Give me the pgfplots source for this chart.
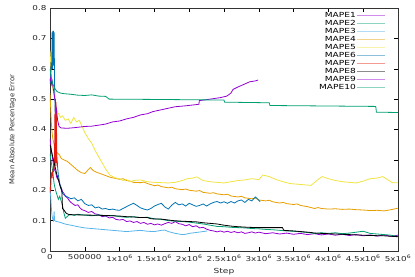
\documentclass[border=0pt]{standalone}
\usepackage{pgfplots}
\pgfplotsset{compat=1.18}
\usepackage{fontspec}
\setmainfont{DejaVu Sans}[FakeStretch=1.3]
\newfontfamily\ylfont{DejaVu Sans}
\definecolor{g1}{HTML}{9400D3}
\definecolor{g2}{HTML}{009E73}
\definecolor{g3}{HTML}{56B4E9}
\definecolor{g4}{HTML}{E69F00}
\definecolor{g5}{HTML}{F0E442}
\definecolor{g6}{HTML}{0072B2}
\definecolor{g7}{HTML}{E51E10}
\definecolor{g8}{HTML}{000000}
\begin{document}
\begin{tikzpicture}
\begin{axis}[
  name=ax, scale only axis, width=348bp, height=243bp,
  xmin=0, xmax=5e6, ymin=0, ymax=0.8,
  xtick={0,0.5e6,1e6,1.5e6,2e6,2.5e6,3e6,3.5e6,4e6,4.5e6,5e6},
  xticklabels={0,500000,1x10\textsuperscript{6},1.5x10\textsuperscript{6},2x10\textsuperscript{6},2.5x10\textsuperscript{6},3x10\textsuperscript{6},3.5x10\textsuperscript{6},4x10\textsuperscript{6},4.5x10\textsuperscript{6},5x10\textsuperscript{6}},
  ytick={0,0.1,0.2,0.3,0.4,0.5,0.6,0.7,0.8},
  yticklabels={0,0.1,0.2,0.3,0.4,0.5,0.6,0.7,0.8},
  scaled x ticks=false,
  xtick pos=both, ytick pos=both, tick align=inside,
  major tick length=4bp,
  tick style={black, line width=0.5bp},
  axis line style={line width=0.8bp, black!80},
  ticklabel style={font=\fontsize{6.8}{8}\selectfont, text=black!85},
  xlabel={Step}, ylabel={Mean Absolute Percentage Error},
  xlabel style={font=\fontsize{7}{8}\selectfont, text=black!85, at={(axis description cs:0.5,-0.0864)}, anchor=center},
  ylabel style={font=\ylfont\fontsize{6.8}{7}\selectfont, text=black!85, at={(axis description cs:-0.108,0.5)}, anchor=center},
  legend plot pos=right, legend cell align=right,
  legend image code/.code={\draw[#1, opacity=0.45, line width=1bp] (0bp,0bp) -- (28bp,0bp);},
  legend style={at={(rel axis cs:0.9655,0.988)}, anchor=north east, draw=none, fill=none,
    font=\fontsize{7}{7}\selectfont, inner sep=0pt,
    nodes={inner sep=1bp, text height=5bp, text depth=1bp}},
  every axis plot/.append style={line width=0.8bp},
]
% MAPE1
\addplot[g1] coordinates {(0,0.37)(0.02e6,0.33)(0.04e6,0.30)(0.06e6,0.27)(0.08e6,0.26)(0.10e6,0.24)(0.12e6,0.235)(0.14e6,0.22)(0.16e6,0.21)(0.18e6,0.195)(0.20e6,0.19)(0.22e6,0.18)(0.25e6,0.175)(0.28e6,0.165)(0.30e6,0.16)(0.33e6,0.155)(0.36e6,0.15)(0.40e6,0.152)(0.43e6,0.142)(0.46e6,0.136)(0.50e6,0.133)(0.55e6,0.127)(0.60e6,0.13)(0.65e6,0.122)(0.70e6,0.12)(0.75e6,0.113)(0.80e6,0.115)(0.85e6,0.109)(0.90e6,0.111)(0.95e6,0.104)(1.00e6,0.102)(1.05e6,0.104)(1.10e6,0.097)(1.15e6,0.099)(1.20e6,0.094)(1.25e6,0.097)(1.30e6,0.091)(1.35e6,0.094)(1.40e6,0.088)(1.45e6,0.091)(1.50e6,0.086)(1.55e6,0.089)(1.60e6,0.085)(1.65e6,0.09)(1.70e6,0.094)(1.75e6,0.091)(1.80e6,0.097)(1.85e6,0.09)(1.90e6,0.088)(1.95e6,0.083)(2.00e6,0.087)(2.05e6,0.08)(2.10e6,0.083)(2.15e6,0.076)(2.20e6,0.078)(2.25e6,0.072)(2.30e6,0.068)(2.35e6,0.066)(2.40e6,0.063)(2.45e6,0.066)(2.50e6,0.062)(2.55e6,0.065)(2.60e6,0.061)(2.65e6,0.064)(2.70e6,0.06)(2.75e6,0.063)(2.80e6,0.058)(2.85e6,0.06)(2.90e6,0.063)(2.95e6,0.059)(3.00e6,0.062)(3.1e6,0.057)(3.2e6,0.06)(3.3e6,0.056)(3.4e6,0.059)(3.5e6,0.055)(3.6e6,0.058)(3.7e6,0.054)(3.8e6,0.057)(3.9e6,0.053)(4.0e6,0.056)(4.1e6,0.052)(4.2e6,0.055)(4.3e6,0.051)(4.4e6,0.054)(4.5e6,0.05)(4.6e6,0.053)(4.7e6,0.049)(4.8e6,0.053)(4.9e6,0.048)(5.0e6,0.052)};
\addlegendentry{MAPE1}
% MAPE2
\addplot[g2] coordinates {(0,0.32)(0.02e6,0.29)(0.04e6,0.26)(0.06e6,0.22)(0.08e6,0.2)(0.10e6,0.185)(0.12e6,0.17)(0.14e6,0.18)(0.16e6,0.165)(0.18e6,0.15)(0.20e6,0.125)(0.22e6,0.108)(0.24e6,0.112)(0.27e6,0.118)(0.30e6,0.12)(0.35e6,0.117)(0.40e6,0.121)(0.50e6,0.118)(0.60e6,0.116)(0.70e6,0.119)(0.80e6,0.115)(0.90e6,0.117)(1.00e6,0.113)(1.10e6,0.111)(1.20e6,0.113)(1.30e6,0.11)(1.40e6,0.111)(1.50e6,0.106)(1.60e6,0.104)(1.70e6,0.1)(1.80e6,0.098)(1.90e6,0.097)(2.00e6,0.095)(2.10e6,0.092)(2.20e6,0.089)(2.30e6,0.085)(2.40e6,0.081)(2.50e6,0.08)(2.60e6,0.078)(2.70e6,0.077)(2.80e6,0.076)(2.90e6,0.074)(3.00e6,0.073)(3.10e6,0.071)(3.20e6,0.07)(3.30e6,0.068)(3.40e6,0.066)(3.50e6,0.065)(3.60e6,0.063)(3.70e6,0.061)(3.80e6,0.058)(3.90e6,0.06)(4.00e6,0.058)(4.10e6,0.06)(4.20e6,0.057)(4.30e6,0.059)(4.40e6,0.062)(4.50e6,0.065)(4.60e6,0.058)(4.70e6,0.056)(4.80e6,0.054)(4.90e6,0.052)(5.00e6,0.048)};
\addlegendentry{MAPE2}
% MAPE3
\addplot[g3] coordinates {(0,0.21)(0.01e6,0.18)(0.02e6,0.14)(0.03e6,0.115)(0.04e6,0.105)(0.05e6,0.1)(0.06e6,0.13)(0.065e6,0.1)(0.08e6,0.098)(0.10e6,0.097)(0.15e6,0.094)(0.20e6,0.09)(0.25e6,0.087)(0.30e6,0.085)(0.40e6,0.08)(0.50e6,0.076)(0.60e6,0.074)(0.70e6,0.072)(0.80e6,0.07)(0.90e6,0.068)(1.00e6,0.066)(1.10e6,0.064)(1.20e6,0.066)(1.30e6,0.068)(1.40e6,0.065)(1.50e6,0.064)(1.60e6,0.068)(1.65e6,0.069)(1.70e6,0.064)(1.80e6,0.058)(1.90e6,0.054)(1.95e6,0.055)(2.00e6,0.058)(2.10e6,0.061)(2.20e6,0.064)(2.26e6,0.066)};
\addlegendentry{MAPE3}
% MAPE4
\addplot[g4] coordinates {(0,0.52)(0.01e6,0.47)(0.02e6,0.42)(0.03e6,0.39)(0.04e6,0.37)(0.06e6,0.35)(0.08e6,0.33)(0.10e6,0.325)(0.12e6,0.32)(0.14e6,0.315)(0.16e6,0.305)(0.20e6,0.3)(0.25e6,0.295)(0.30e6,0.285)(0.35e6,0.275)(0.40e6,0.265)(0.45e6,0.258)(0.50e6,0.255)(0.55e6,0.268)(0.58e6,0.275)(0.62e6,0.265)(0.66e6,0.26)(0.72e6,0.255)(0.78e6,0.25)(0.86e6,0.243)(0.92e6,0.24)(1.00e6,0.236)(1.05e6,0.238)(1.10e6,0.232)(1.15e6,0.23)(1.20e6,0.226)(1.30e6,0.225)(1.35e6,0.227)(1.40e6,0.222)(1.50e6,0.215)(1.55e6,0.217)(1.60e6,0.212)(1.70e6,0.208)(1.75e6,0.21)(1.80e6,0.205)(1.90e6,0.202)(1.95e6,0.204)(2.00e6,0.2)(2.10e6,0.197)(2.15e6,0.199)(2.20e6,0.193)(2.30e6,0.19)(2.35e6,0.192)(2.40e6,0.188)(2.50e6,0.185)(2.55e6,0.187)(2.60e6,0.181)(2.70e6,0.178)(2.75e6,0.18)(2.80e6,0.175)(2.90e6,0.172)(2.95e6,0.174)(3.00e6,0.168)(3.10e6,0.165)(3.15e6,0.167)(3.20e6,0.162)(3.30e6,0.158)(3.35e6,0.16)(3.40e6,0.156)(3.50e6,0.153)(3.55e6,0.155)(3.60e6,0.15)(3.70e6,0.146)(3.80e6,0.14)(3.85e6,0.143)(3.90e6,0.14)(4.00e6,0.138)(4.10e6,0.139)(4.20e6,0.137)(4.30e6,0.138)(4.40e6,0.136)(4.50e6,0.135)(4.60e6,0.133)(4.70e6,0.134)(4.80e6,0.132)(4.90e6,0.136)(5.00e6,0.141)};
\addlegendentry{MAPE4}
% MAPE5
\addplot[g5] coordinates {(0,0.66)(0.01e6,0.62)(0.02e6,0.58)(0.03e6,0.55)(0.05e6,0.52)(0.07e6,0.5)(0.09e6,0.47)(0.11e6,0.455)(0.13e6,0.45)(0.15e6,0.44)(0.18e6,0.445)(0.22e6,0.43)(0.26e6,0.435)(0.30e6,0.42)(0.34e6,0.44)(0.38e6,0.425)(0.42e6,0.43)(0.46e6,0.41)(0.50e6,0.39)(0.55e6,0.37)(0.60e6,0.355)(0.65e6,0.33)(0.70e6,0.31)(0.75e6,0.29)(0.80e6,0.27)(0.86e6,0.25)(0.90e6,0.245)(0.95e6,0.24)(1.00e6,0.238)(1.05e6,0.232)(1.10e6,0.235)(1.15e6,0.228)(1.20e6,0.232)(1.30e6,0.234)(1.40e6,0.228)(1.50e6,0.226)(1.60e6,0.225)(1.70e6,0.224)(1.80e6,0.226)(1.90e6,0.232)(1.97e6,0.238)(2.05e6,0.24)(2.11e6,0.244)(2.20e6,0.232)(2.30e6,0.228)(2.40e6,0.226)(2.50e6,0.224)(2.60e6,0.228)(2.70e6,0.232)(2.80e6,0.234)(2.90e6,0.238)(3.00e6,0.235)(3.06e6,0.25)(3.15e6,0.245)(3.25e6,0.235)(3.35e6,0.228)(3.45e6,0.222)(3.55e6,0.22)(3.65e6,0.218)(3.75e6,0.216)(3.85e6,0.235)(3.91e6,0.245)(4.00e6,0.238)(4.10e6,0.232)(4.21e6,0.228)(4.30e6,0.226)(4.40e6,0.224)(4.50e6,0.23)(4.60e6,0.238)(4.70e6,0.24)(4.78e6,0.245)(4.85e6,0.235)(4.92e6,0.225)(5.00e6,0.225)};
\addlegendentry{MAPE5}
% MAPE6
\addplot[g6] coordinates {(0,0.55)(0.01e6,0.58)(0.02e6,0.62)(0.025e6,0.6)(0.03e6,0.72)(0.035e6,0.6)(0.04e6,0.725)(0.045e6,0.61)(0.05e6,0.725)(0.055e6,0.62)(0.06e6,0.72)(0.065e6,0.55)(0.08e6,0.4)(0.10e6,0.3)(0.12e6,0.25)(0.15e6,0.21)(0.18e6,0.19)(0.20e6,0.185)(0.25e6,0.178)(0.30e6,0.172)(0.35e6,0.175)(0.40e6,0.165)(0.45e6,0.17)(0.50e6,0.156)(0.55e6,0.15)(0.60e6,0.152)(0.65e6,0.142)(0.70e6,0.145)(0.75e6,0.138)(0.80e6,0.14)(0.85e6,0.136)(0.90e6,0.138)(0.95e6,0.135)(1.00e6,0.134)(1.05e6,0.14)(1.10e6,0.146)(1.15e6,0.152)(1.20e6,0.157)(1.25e6,0.15)(1.30e6,0.142)(1.35e6,0.138)(1.40e6,0.135)(1.45e6,0.14)(1.50e6,0.148)(1.55e6,0.153)(1.60e6,0.157)(1.65e6,0.145)(1.70e6,0.138)(1.75e6,0.151)(1.80e6,0.16)(1.85e6,0.152)(1.90e6,0.155)(1.95e6,0.148)(2.00e6,0.157)(2.05e6,0.152)(2.10e6,0.147)(2.15e6,0.15)(2.20e6,0.155)(2.25e6,0.148)(2.30e6,0.155)(2.35e6,0.16)(2.40e6,0.163)(2.45e6,0.158)(2.50e6,0.162)(2.55e6,0.157)(2.60e6,0.163)(2.65e6,0.158)(2.70e6,0.165)(2.75e6,0.168)(2.80e6,0.16)(2.85e6,0.17)(2.90e6,0.165)(2.95e6,0.178)(2.98e6,0.172)(3.02e6,0.162)};
\addlegendentry{MAPE6}
% MAPE7
\addplot[g7] coordinates {(0,0.19)(0.005e6,0.21)(0.01e6,0.2)(0.015e6,0.24)(0.02e6,0.25)(0.025e6,0.24)(0.03e6,0.26)(0.035e6,0.25)(0.04e6,0.26)(0.045e6,0.27)(0.05e6,0.26)(0.055e6,0.28)(0.06e6,0.27)(0.065e6,0.3)(0.07e6,0.45)(0.072e6,0.29)(0.075e6,0.48)(0.078e6,0.3)(0.08e6,0.5)(0.083e6,0.28)(0.086e6,0.49)(0.09e6,0.3)(0.093e6,0.47)(0.097e6,0.29)(0.1e6,0.3)(0.105e6,0.28)(0.11e6,0.29)};
\addlegendentry{MAPE7}
% MAPE8
\addplot[g8] coordinates {(0,0.35)(0.02e6,0.33)(0.04e6,0.31)(0.06e6,0.29)(0.08e6,0.27)(0.10e6,0.25)(0.12e6,0.235)(0.15e6,0.21)(0.17e6,0.2)(0.18e6,0.14)(0.2e6,0.135)(0.23e6,0.125)(0.27e6,0.12)(0.4e6,0.119)(0.6e6,0.118)(0.8e6,0.117)(1.0e6,0.115)(1.1e6,0.113)(1.2e6,0.112)(1.3e6,0.11)(1.4e6,0.11)(1.45e6,0.106)(1.6e6,0.105)(1.77e6,0.1)(1.9e6,0.098)(2.1e6,0.096)(2.2e6,0.093)(2.4e6,0.089)(2.5e6,0.085)(2.6e6,0.082)(2.7e6,0.08)(2.85e6,0.078)(3.0e6,0.077)(3.2e6,0.077)(3.34e6,0.077)(3.36e6,0.068)(3.5e6,0.066)(3.6e6,0.064)(3.75e6,0.061)(3.8e6,0.059)(4.0e6,0.057)(4.2e6,0.055)(4.4e6,0.053)(4.6e6,0.051)(4.8e6,0.05)(5e6,0.047)};
\addlegendentry{MAPE8}
% MAPE9
\addplot[g1] coordinates {(0,0.56)(0.01e6,0.57)(0.02e6,0.55)(0.03e6,0.56)(0.05e6,0.53)(0.07e6,0.5)(0.09e6,0.47)(0.11e6,0.43)(0.13e6,0.41)(0.16e6,0.405)(0.25e6,0.404)(0.35e6,0.406)(0.5e6,0.41)(0.6e6,0.411)(0.72e6,0.415)(0.8e6,0.418)(0.9e6,0.425)(1.0e6,0.428)(1.1e6,0.435)(1.2e6,0.44)(1.3e6,0.448)(1.4e6,0.452)(1.48e6,0.459)(1.6e6,0.465)(1.7e6,0.47)(1.8e6,0.475)(1.95e6,0.478)(2.14e6,0.483)(2.145e6,0.495)(2.3e6,0.5)(2.45e6,0.505)(2.54e6,0.51)(2.6e6,0.52)(2.63e6,0.532)(2.7e6,0.54)(2.8e6,0.55)(2.87e6,0.557)(2.95e6,0.56)(2.99e6,0.563)};
\addlegendentry{MAPE9}
% MAPE10
\addplot[g2] coordinates {(0,0.6)(0.02e6,0.57)(0.04e6,0.55)(0.07e6,0.535)(0.1e6,0.525)(0.15e6,0.52)(0.2e6,0.518)(0.3e6,0.516)(0.4e6,0.513)(0.5e6,0.512)(0.6e6,0.514)(0.7e6,0.51)(0.8e6,0.509)(0.85e6,0.5)(1.5e6,0.499)(2.5e6,0.497)(2.51e6,0.49)(3.15e6,0.488)(3.16e6,0.479)(4.68e6,0.476)(4.69e6,0.457)(5e6,0.456)};
\addlegendentry{MAPE10}
\end{axis}
\pgfresetboundingbox
\path ([shift={(-50bp,-26bp)}]ax.south west) rectangle ([shift={(17bp,8bp)}]ax.north east);
\end{tikzpicture}
\end{document}
